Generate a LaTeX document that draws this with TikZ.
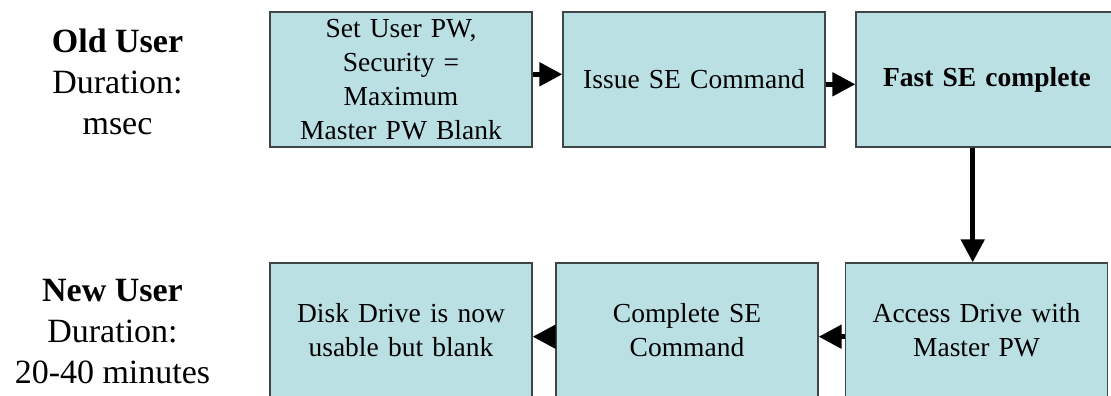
\documentclass[tikz,border=0pt]{standalone}
\usepackage{fontspec}
\setmainfont{Liberation Serif}
\usetikzlibrary{arrows.meta}
\definecolor{boxfill}{RGB}{187,224,227}
\definecolor{boxline}{RGB}{64,70,72}
\tikzset{
  stepbox/.style={draw=boxline, line width=1.3pt, fill=boxfill, minimum width=262pt, minimum height=135pt,
    inner sep=0pt, align=center, text width=250pt,
    font=\fontsize{27.5pt}{34pt}\selectfont},
  lbl/.style={align=center, inner sep=0pt, font=\fontsize{34pt}{41pt}\selectfont},
  arr/.style={line width=5pt, -{Triangle[length=23pt,width=23pt]}}
}
\begin{document}
\begin{tikzpicture}[x=1pt,y=-1pt]
\clip (0,0) rectangle (1111,396);
\fill[white] (0,0) rectangle (1111,396);
% left labels
\node[lbl] (old) at (117.5,82) {\textbf{Old User}\\Duration:\\msec};
\node[lbl] (new) at (112.5,332) {\textbf{New User}\\Duration:\\20-40 minutes};
% top row
\node[stepbox] (b1) at (401,79.5) {Set User PW,\\Security =\\Maximum\\Master PW Blank};
\node[stepbox] (b2) at (694,79.5) {Issue SE Command};
\node[stepbox] (b3) at (987,79.5) {\textbf{Fast SE complete}};
% bottom row
\node[stepbox] (b4) at (401,330.5) {Disk Drive is now\\usable but blank};
\node[stepbox] (b5) at (687,330.5) {Complete SE\\Command};
\node[stepbox] (b6) at (976.5,330.5) {Access Drive with\\Master PW};
% connectors
\draw[arr] ([yshift=5.2pt]b1.east) -- ([yshift=5.2pt]b2.west);
\draw[arr] ([yshift=-4.8pt]b2.east) -- ([yshift=-4.8pt]b3.west);
\draw[arr] ([xshift=-14.3pt]b3.south) -- ([xshift=-14.3pt]b3.south |- b6.north);
\draw[arr] ([yshift=-6.2pt]b6.west) -- ([yshift=-6.2pt]b5.east);
\draw[arr] ([yshift=-6.2pt]b5.west) -- ([yshift=-6.2pt]b4.east);
\end{tikzpicture}
\end{document}
